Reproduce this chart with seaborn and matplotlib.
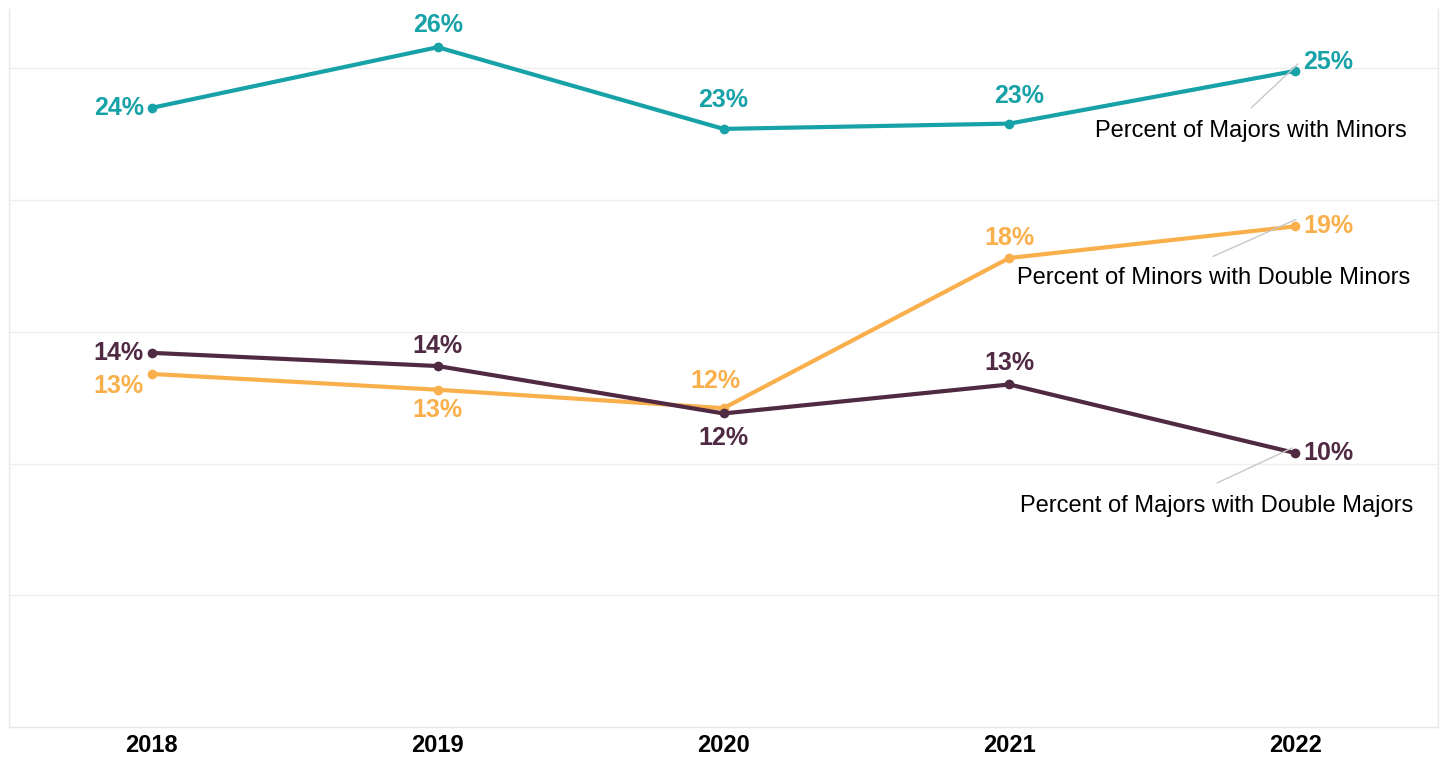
import matplotlib.pyplot as plt
import seaborn as sns
import pandas as pd

sns.set_style('white')
plt.rcParams['font.family'] = ['Liberation Sans', 'DejaVu Sans']

# Data
years = ['2018', '2019', '2020', '2021', '2022']
majors_with_minors = [23.5, 25.8, 22.7, 22.9, 24.9]
minors_with_double_minors = [13.4, 12.8, 12.1, 17.8, 19.0]
majors_with_double_majors = [14.2, 13.7, 11.9, 13.0, 10.4]
series_names = ['Percent of Majors with Minors',
                'Percent of Minors with Double Minors',
                'Percent of Majors with Double Majors']
value_labels = [['24%', '26%', '23%', '23%', '25%'],
                ['13%', '13%', '12%', '18%', '19%'],
                ['14%', '14%', '12%', '13%', '10%']]

colors = ['#17A2A8', '#F9B04C', '#502943']

# Long form frame for seaborn
rows = []
for name, vals in zip(series_names, [majors_with_minors, minors_with_double_minors, majors_with_double_majors]):
    for i, (yr, v) in enumerate(zip(years, vals)):
        rows.append({'series': name, 'year': yr, 'pos': i, 'value': v})
df = pd.DataFrame(rows)

fig = plt.figure(figsize=(14.42, 7.58), dpi=100)
ax = fig.add_axes([9 / 1442, 1 - 727 / 758, (1438 - 9) / 1442, (727 - 9) / 758])

sns.lineplot(data=df, x='pos', y='value', hue='series', hue_order=series_names,
             palette=colors, marker='o', markersize=7, markeredgewidth=0,
             linewidth=3, legend=False, ax=ax)

ax.set_xlim(-0.5, 4.5)
ax.set_ylim(0, 27.25)
ax.set_yticks([5, 10, 15, 20, 25])
ax.set_yticklabels([])
ax.tick_params(axis='y', length=0)
ax.yaxis.grid(True, color='#efefef', linewidth=1)
ax.set_axisbelow(True)

ax.set_xticks(range(len(years)))
ax.set_xticklabels(years, fontsize=17, fontweight='bold', color='black')
ax.set_xticks([0.5, 1.5, 2.5, 3.5], minor=True)
ax.tick_params(axis='x', which='major', length=0, pad=5)
ax.tick_params(axis='x', which='minor', length=8, color='#e4e4e4', width=1)
ax.set_xlabel('')
ax.set_ylabel('')

for side in ['left', 'right', 'bottom']:
    ax.spines[side].set_color('#e8e8e8')
    ax.spines[side].set_linewidth(1)
ax.spines['top'].set_visible(False)

# Label offsets in pixels (dx, dy, ha) for each point
offsets = [
    [(-8, 0, 'right'), (0, 22, 'center'), (0, 29, 'center'), (10, 28, 'center'), (8, 9, 'left')],
    [(-8, -12, 'right'), (0, -20, 'center'), (-8, 27, 'center'), (0, 20, 'center'), (8, 0, 'left')],
    [(-8, 0, 'right'), (0, 20, 'center'), (0, -25, 'center'), (0, 21, 'center'), (8, 0, 'left')],
]
all_vals = [majors_with_minors, minors_with_double_minors, majors_with_double_majors]
for vals, labs, offs, c in zip(all_vals, value_labels, offsets, colors):
    for i, (v, lab, (dx, dy, ha)) in enumerate(zip(vals, labs, offs)):
        ax.annotate(lab, xy=(i, v), xytext=(dx, dy), textcoords='offset pixels',
                    ha=ha, va='center', fontsize=18, fontweight='bold', color=c)

# Series name callouts with leader lines (pixel offsets from last point)
callouts = [((3, 7), (-44, -37), (-44, -60)),
            ((1, 7), (-82, -30), (-81, -52)),
            ((-3, 5), (-78, -30), (-78, -53))]
last = len(years) - 1
for name, vals, (start, end, txt) in zip(series_names, all_vals, callouts):
    p0 = ax.transData.transform((last, vals[last]))
    a = ax.transData.inverted().transform((p0[0] + start[0], p0[1] + start[1]))
    b = ax.transData.inverted().transform((p0[0] + end[0], p0[1] + end[1]))
    ax.plot([a[0], b[0]], [a[1], b[1]], color='#c8c8c8', linewidth=1)
    ax.annotate(name, xy=(last, vals[last]), xytext=txt, textcoords='offset pixels',
                ha='center', va='center', fontsize=17, color='black')

plt.savefig('out.png', dpi=100)
